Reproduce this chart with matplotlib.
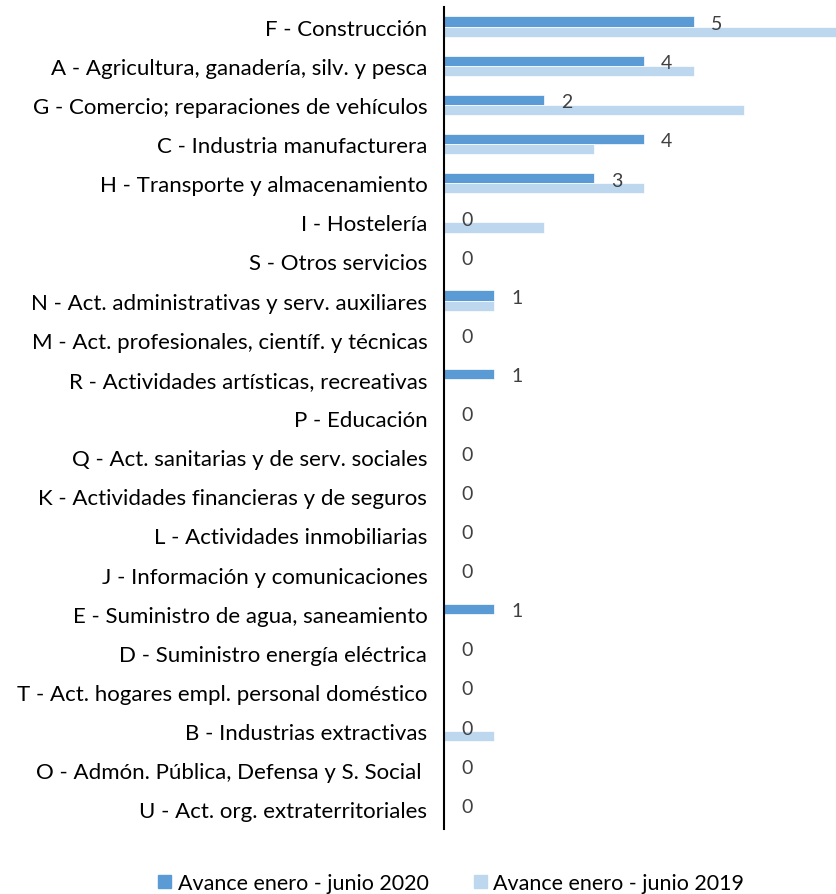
import numpy as np
import matplotlib
matplotlib.use("Agg")
import matplotlib.pyplot as plt
import matplotlib.patches as mpatches

plt.rcParams['font.family'] = ['Lato', 'DejaVu Sans']

sectores = [
    "F - Construcción",
    "A - Agricultura, ganadería, silv. y pesca",
    "G - Comercio; reparaciones de vehículos",
    "C - Industria manufacturera",
    "H - Transporte y almacenamiento",
    "I - Hostelería",
    "S - Otros servicios",
    "N - Act. administrativas y serv. auxiliares",
    "M - Act. profesionales, científ. y técnicas",
    "R - Actividades artísticas, recreativas",
    "P - Educación",
    "Q - Act. sanitarias y de serv. sociales",
    "K - Actividades financieras y de seguros",
    "L - Actividades inmobiliarias",
    "J - Información y comunicaciones",
    "E - Suministro de agua, saneamiento",
    "D - Suministro energía eléctrica",
    "T - Act. hogares empl. personal doméstico",
    "B - Industrias extractivas",
    "O - Admón. Pública, Defensa y S. Social ",
    "U - Act. org. extraterritoriales",
]
avance_2020 = [5, 4, 2, 4, 3, 0, 0, 1, 0, 1, 0, 0, 0, 0, 0, 1, 0, 0, 0, 0, 0]
avance_2019 = [8, 5, 6, 3, 4, 2, 0, 1, 0, 0, 0, 0, 0, 0, 0, 0, 0, 0, 1, 0, 0]

c2020 = '#5B9BD5'
c2019 = '#BDD7EE'
gris = '#404040'

fig = plt.figure(figsize=(8.37, 8.95), dpi=100)
ax = fig.add_axes([0.5305, 0.0726, 0.4695, 0.9184])

y = np.arange(len(sectores))
h = 0.26
ax.barh(y - h / 2, avance_2020, height=h, color=c2020, edgecolor='white', linewidth=0.5)
ax.barh(y + h / 2, avance_2019, height=h, color=c2019, edgecolor='white', linewidth=0.5)

# etiquetas solo para la serie 2020
for yi, v in zip(y, avance_2020):
    ax.text(v + 0.34, yi - 0.08, str(v), va='center', ha='left', fontsize=14, color=gris)

ax.set_xlim(0, 7.86)
ax.set_ylim(len(sectores) - 0.5, -0.5)
ax.set_yticks(y)
ax.set_yticklabels(sectores, fontsize=16, color='black')
ax.tick_params(axis='y', length=0, pad=12)
ax.set_xticks([])
for s in ['top', 'right', 'bottom']:
    ax.spines[s].set_visible(False)
ax.spines['left'].set_linewidth(1.5)
ax.spines['left'].set_color('black')

p1 = mpatches.Patch(color=c2020, label='Avance enero - junio 2020')
p2 = mpatches.Patch(color=c2019, label='Avance enero - junio 2019')
fig.legend(handles=[p1, p2], loc='center', bbox_to_anchor=(0.539, 0.0123), ncol=2,
           frameon=False, fontsize=15.5, handlelength=0.6, handleheight=0.6,
           handletextpad=0.3, columnspacing=2.1, borderpad=0)

fig.savefig('out.png', dpi=100)
